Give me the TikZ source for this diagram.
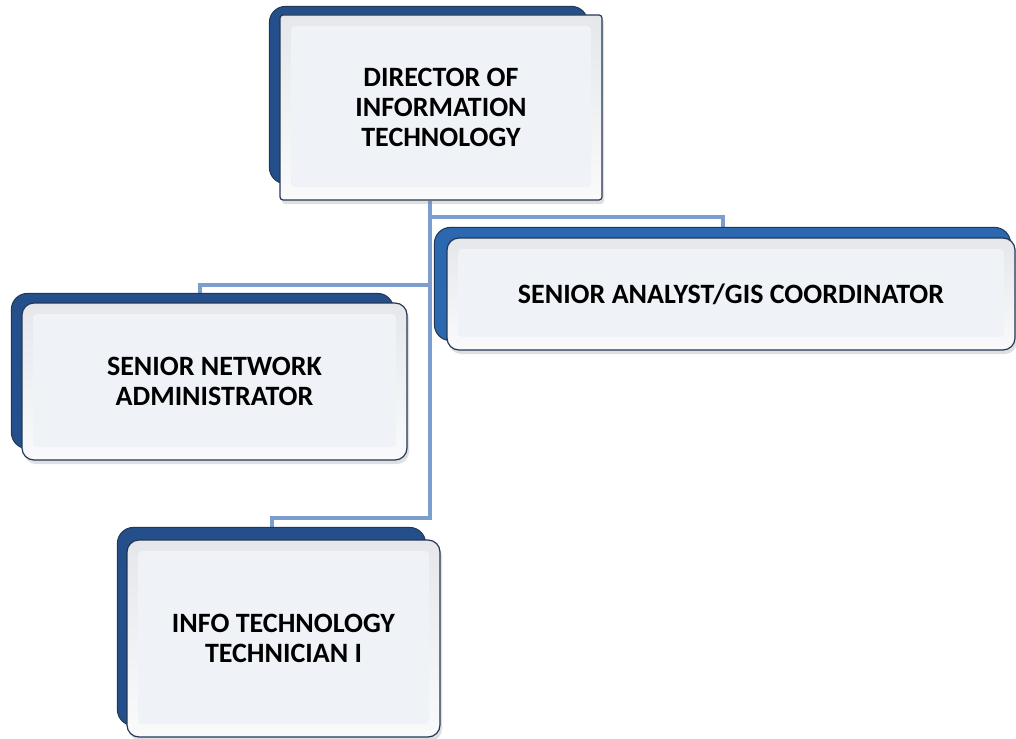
\documentclass[tikz,border=0pt]{standalone}
\usepackage{fontspec}
\setmainfont{Carlito}
\usepackage{tikz}
\usetikzlibrary{shadows, backgrounds}
\definecolor{navyback}{RGB}{37,79,138}
\definecolor{brightback}{RGB}{44,104,176}
\definecolor{edgeline}{RGB}{35,55,85}
\definecolor{bevel}{RGB}{229,231,235}
\definecolor{face}{RGB}{239,242,247}
\definecolor{linkblue}{RGB}{124,158,207}
\tikzstyle{post} = [rectangle, rounded corners=12pt, draw=edgeline,
    line width=1.2pt, top color=bevel, bottom color=white!80!bevel,
    align=center, inner sep=0pt,
    font=\bfseries\fontsize{28}{30}\selectfont,
    drop shadow={shadow xshift=2pt, shadow yshift=-4pt, opacity=0.25},
    path picture={\fill[face, rounded corners=4pt]
        ([xshift=11pt,yshift=-11pt]path picture bounding box.north west) rectangle
        ([xshift=-11pt,yshift=13pt]path picture bounding box.south east);}]
\tikzstyle{toppost} = [post, rounded corners=3pt]
\tikzstyle{backing} = [rounded corners=16pt, fill=navyback, draw=edgeline, line width=1pt]
\tikzstyle{link} = [linkblue, line width=4pt]

\begin{document}
\begin{tikzpicture}[x=1pt, y=-1pt]
            \useasboundingbox (0,0) rectangle (1016,738);
            % Boxes
            \node[toppost, minimum width=322pt, minimum height=185pt] (dir)
            at (441,107.5) {DIRECTOR OF\\INFORMATION\\TECHNOLOGY};
            \node[post, minimum width=568pt, minimum height=112pt] (gis)
            at (731,294) {SENIOR ANALYST/GIS COORDINATOR};
            \node[post, minimum width=385pt, minimum height=157pt] (net)
            at (214.5,381.5) {SENIOR NETWORK\\ADMINISTRATOR};
            \node[post, minimum width=313pt, minimum height=197pt] (tech)
            at (283.5,638.5) {INFO TECHNOLOGY\\TECHNICIAN I};
            \begin{scope}[on background layer]
            % Links
            \draw[link] ([xshift=-11pt]dir.south) |- ([xshift=-8pt,yshift=20pt]gis.north)
            -- ([xshift=-8pt]gis.north);
            \draw[link] ([xshift=-11pt]dir.south) |- ([xshift=-14.5pt,yshift=17pt]net.north)
            -- ([xshift=-14.5pt]net.north);
            \draw[link] ([xshift=-11pt]dir.south) |- ([xshift=-11.5pt,yshift=21pt]tech.north)
            -- ([xshift=-11.5pt]tech.north);
            % Backing plates
            \draw[backing] ([xshift=-10pt,yshift=8pt]dir.north west) rectangle
            ([xshift=-15pt,yshift=17pt]dir.south east);
            \draw[backing, fill=brightback] ([xshift=-12pt,yshift=10pt]gis.north west) rectangle
            ([xshift=-5pt,yshift=10pt]gis.south east);
            \draw[backing] ([xshift=-10pt,yshift=9pt]net.north west) rectangle
            ([xshift=-14pt,yshift=12pt]net.south east);
            \draw[backing] ([xshift=-9pt,yshift=12pt]tech.north west) rectangle
            ([xshift=-15pt,yshift=12pt]tech.south east);
            \end{scope}

        \end{tikzpicture}
\end{document}
